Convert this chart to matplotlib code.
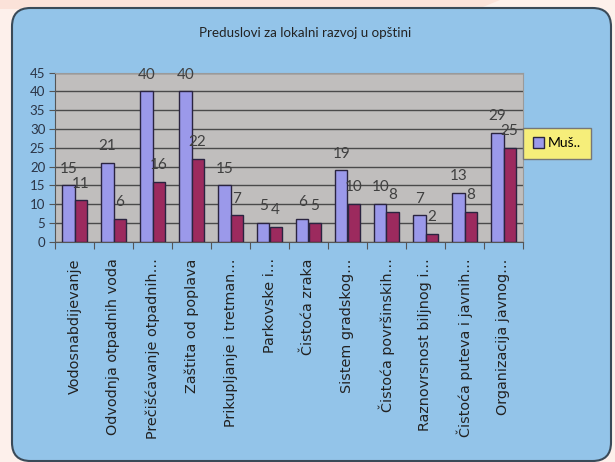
import numpy as np
import matplotlib.pyplot as plt
from matplotlib.patches import FancyBboxPatch, Polygon

plt.rcParams['font.family'] = ['Lato', 'DejaVu Sans']

# podaci
categories = ['Vodosnabdijevanje', 'Odvodnja otpadnih voda', 'Prečišćavanje otpadnih…',
              'Zaštita od poplava', 'Prikupljanje i tretman…', 'Parkovske i…',
              'Čistoća zraka', 'Sistem gradskog…', 'Čistoća površinskih…',
              'Raznovrsnost biljnog i…', 'Čistoća puteva i javnih…', 'Organizacija javnog…']
muski = [15, 21, 40, 40, 15, 5, 6, 19, 10, 7, 13, 29]
zenski = [11, 6, 16, 22, 7, 4, 5, 10, 8, 2, 8, 25]
y_ticks = list(range(0, 50, 5))

W, H = 615, 462
fig = plt.figure(figsize=(W / 100, H / 100), dpi=100)
fig.patch.set_facecolor('#fdf0eb')

# pozadina
fig.patches.append(Polygon([(0, 1), (500 / W, 1), (478 / W, 1 - 9 / H), (0, 1 - 9 / H)],
                           closed=True, transform=fig.transFigure,
                           facecolor='#fbe2d9', edgecolor='none', zorder=0))
panel = FancyBboxPatch((12 / W, 1 - 461 / H), 599 / W, 453 / H,
                       boxstyle='round,pad=0,rounding_size=0.03',
                       transform=fig.transFigure, facecolor='#93c4e9',
                       edgecolor='#3a4a58', linewidth=1.5, zorder=1,
                       mutation_aspect=W / H)
fig.patches.append(panel)

ax = fig.add_axes([55 / W, 1 - 241.7 / H, 468 / W, 169 / H])
ax.set_zorder(2)
ax.set_facecolor('#c0bebd')

x = np.arange(len(categories))
w = 0.31
b1 = ax.bar(x - w / 2, muski, w, color='#9b99ea', edgecolor='#2a2440', linewidth=1.0,
            label='Muš..', zorder=3)
b2 = ax.bar(x + w / 2, zenski, w, color='#9c2a5e', edgecolor='#2a2440', linewidth=1.0,
            zorder=3)

for bars, vals in ((b1, muski), (b2, zenski)):
    for r, v in zip(bars, vals):
        ax.annotate(str(v), (r.get_x() + r.get_width() / 2, v), xytext=(0, 7),
                    textcoords='offset points', ha='center', va='bottom',
                    fontsize=11, color='#404040', zorder=4)

ax.set_xlim(-0.5, len(categories) - 0.5)
ax.set_ylim(0, 45)
ax.set_yticks(y_ticks)
ax.set_yticklabels([str(t) for t in y_ticks], fontsize=9.5, color='#2b3445')
ax.yaxis.grid(True, color='#4a4a4a', linewidth=1.0, zorder=1)
ax.set_axisbelow(True)

ax.set_xticks(np.arange(len(categories) + 1) - 0.5, minor=False)
ax.set_xticklabels([])
ax.tick_params(axis='x', length=5, color='#555555', direction='out')
ax.tick_params(axis='y', length=4, color='#555555', direction='out', pad=3)
ax.set_xticks(x, minor=True)
ax.set_xticklabels(categories, minor=True, rotation=90, fontsize=10.4, color='#222222',
                   ha='center', va='top', family=['DejaVu Sans'])
ax.tick_params(axis='x', which='minor', length=0, pad=12)

for side in ('top', 'right'):
    ax.spines[side].set_color('#9a9a9a')
    ax.spines[side].set_linewidth(0.8)
ax.spines['left'].set_color('#555555')
ax.spines['bottom'].set_color('#555555')

fig.text(305 / W, 1 - 33 / H, 'Preduslovi za lokalni razvoj u opštini', ha='center',
         va='center', fontsize=9.6, color='#222222', zorder=5)

leg = ax.legend(loc='upper left', bbox_to_anchor=(1.0, 0.675), frameon=True,
                fontsize=10, handlelength=0.8, handleheight=0.8, borderpad=0.7,
                handletextpad=0.3, fancybox=False, borderaxespad=0)
leg.get_frame().set_facecolor('#f6ee7a')
leg.get_frame().set_edgecolor('#777777')
leg.get_frame().set_alpha(1)

fig.savefig('out.png', dpi=100, facecolor=fig.get_facecolor())
